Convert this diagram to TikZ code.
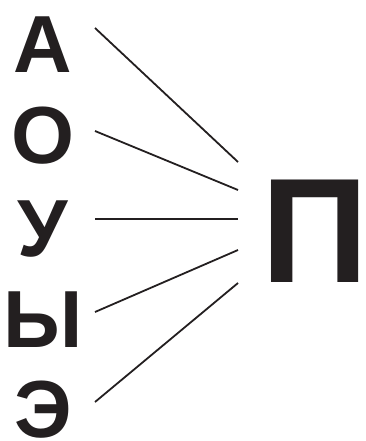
\documentclass[tikz,border=0pt]{standalone}
\usepackage{fontspec}
\setmainfont{Liberation Sans}
\usetikzlibrary{positioning}
\definecolor{ink}{RGB}{35,31,32}

\begin{document}
\begin{tikzpicture}[x=1pt,y=-1pt,
    vowel/.style={anchor=base,inner sep=0pt,text=ink,font=\fontsize{81}{81}\selectfont\bfseries},
    link/.style={draw=ink,line width=1.8pt}]
    \useasboundingbox (0,0) rectangle (366,441);
    \node[vowel] (a) at (43,73) {А};
    \node[vowel] (o) at (43,163) {О};
    \node[vowel] (u) at (43,256) {У};
    \node[vowel] (y) at (43,347) {Ы};
    \node[vowel] (e) at (43,437) {Э};
    \node[vowel,font=\fontsize{149}{149}\selectfont\bfseries] (p) at (315,282) {П};
    % line ends
    \coordinate (a-out) at (95,28);  \coordinate (a-in) at (238,162);
    \coordinate (o-out) at (95,131); \coordinate (o-in) at (238,190);
    \coordinate (u-out) at (95,219); \coordinate (u-in) at (238,219);
    \coordinate (y-out) at (95,312); \coordinate (y-in) at (238,250);
    \coordinate (e-out) at (95,402); \coordinate (e-in) at (238,283);
    \draw[link] (a-out)--(a-in); \draw[link] (o-out)--(o-in);
    \draw[link] (u-out)--(u-in); \draw[link] (y-out)--(y-in);
    \draw[link] (e-out)--(e-in);
  \end{tikzpicture}
\end{document}
